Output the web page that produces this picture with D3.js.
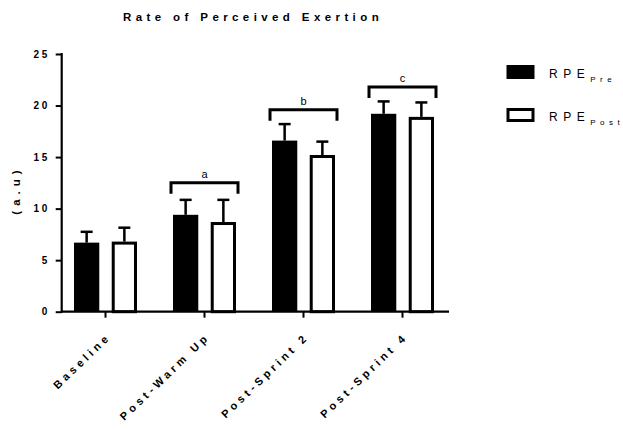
<!DOCTYPE html>
<html>
<head>
<meta charset="utf-8">
<script src="https://cdn.jsdelivr.net/npm/d3@7"></script>
<style>
  body { margin: 0; background: #fff; }
  svg { display: block; font-family: "Liberation Sans", Arial, sans-serif; }
</style>
</head>
<body>
<div class="chart"></div>
<script>
"use strict";

// values (mean + SD, a.u)
const categories = ["Baseline", "Post-Warm Up", "Post-Sprint 2", "Post-Sprint 4"];
const preMean = [6.7, 9.4, 16.6, 19.2];
const preSD = [1.05, 1.45, 1.6, 1.2];
const postMean = [6.8, 8.7, 15.2, 18.9];
const postSD = [1.35, 2.15, 1.3, 1.4];
const bracketLevel = [null, 12.5, 19.6, 21.8];
const bracketLabel = [null, "a", "b", "c"];
const yTicks = [0, 5, 10, 15, 20, 25];

const W = 623, H = 429;

const svg = d3.select(".chart").append("svg")
    .attr("width", W)
    .attr("height", H);

// scales
const y = d3.scaleLinear().domain([0, 25]).range([311.7, 54]);
const x = d3.scaleBand().domain(categories).range([56, 452]).paddingInner(0);
const sub = d3.scaleBand().domain(["pre", "post"]).range([-31.5, 31.5]).paddingInner(0.33);

const rows = categories.map((c, i) => ({
    cat: c,
    pre: preMean[i], preSD: preSD[i],
    post: postMean[i], postSD: postSD[i],
    br: bracketLevel[i], lab: bracketLabel[i]
}));

const cx = d => x(d.cat) + x.bandwidth() / 2;

// title
svg.append("text")
    .attr("x", 253).attr("y", 21)
    .attr("text-anchor", "middle")
    .style("font-size", "11.5px")
    .style("font-weight", "bold")
    .style("letter-spacing", "4.4px")
    .text("Rate of Perceived Exertion");

// y axis
const yAxis = svg.append("g")
    .attr("transform", "translate(61.7,0)")
    .call(d3.axisLeft(y).tickValues(yTicks).tickSize(6).tickSizeOuter(0).tickPadding(6));
yAxis.select(".domain").attr("stroke-width", 2.2).attr("d", `M0,${y(25) - 1}V${y(0) + 1}`);
yAxis.selectAll(".tick line").attr("stroke-width", 2);
yAxis.selectAll(".tick text")
    .style("font-size", "10px")
    .style("font-weight", "bold")
    .style("letter-spacing", "2.5px")
    .attr("fill", "#000");

svg.append("text")
    .attr("transform", "translate(20,190) rotate(-90)")
    .attr("text-anchor", "middle")
    .style("font-size", "11.5px")
    .style("font-weight", "bold")
    .style("letter-spacing", "5px")
    .text("(a.u)");

// bars
const g = svg.selectAll(".grp").data(rows).enter().append("g")
    .attr("class", "grp")
    .attr("transform", d => `translate(${cx(d)},0)`);

// error bars (upward only)
const errs = [["pre", "preSD"], ["post", "postSD"]];
errs.forEach(([k, s]) => {
    const mx = sub(k) + sub.bandwidth() / 2;
    g.append("line")
        .attr("x1", mx).attr("x2", mx)
        .attr("y1", d => y(d[k])).attr("y2", d => y(d[k] + d[s]))
        .attr("stroke", "#000").attr("stroke-width", 2.5);
    g.append("line")
        .attr("x1", mx - 6).attr("x2", mx + 6)
        .attr("y1", d => y(d[k] + d[s])).attr("y2", d => y(d[k] + d[s]))
        .attr("stroke", "#000").attr("stroke-width", 2.5);
});

g.append("rect")
    .attr("x", sub("pre"))
    .attr("width", sub.bandwidth())
    .attr("y", d => y(d.pre))
    .attr("height", d => y(0) - y(d.pre))
    .attr("fill", "#000");

g.append("rect")
    .attr("x", sub("post") + 1.5)
    .attr("width", sub.bandwidth() - 3)
    .attr("y", d => y(d.post) + 1.5)
    .attr("height", d => y(0) - y(d.post) - 1.5)
    .attr("fill", "#fff")
    .attr("stroke", "#000")
    .attr("stroke-width", 3);

// significance brackets
const br = g.filter(d => d.br !== null);
br.append("path")
    .attr("d", d => {
        const x0 = sub("pre") - 2, x1 = sub("post") + sub.bandwidth() + 2;
        const yy = y(d.br), yl = yy + 11;
        return `M${x0},${yl}V${yy}H${x1}V${yl}`;
    })
    .attr("fill", "none")
    .attr("stroke", "#000")
    .attr("stroke-width", 3);
br.append("text")
    .attr("x", 0)
    .attr("y", d => y(d.br) - 5)
    .attr("text-anchor", "middle")
    .style("font-size", "11px")
    .text(d => d.lab);

// x axis
const xAxis = svg.append("g")
    .attr("transform", `translate(0,${y(0)})`)
    .call(d3.axisBottom(x).tickSize(6).tickSizeOuter(0).tickFormat(""));
xAxis.select(".domain").attr("stroke-width", 2.2).attr("d", "M61,0H449");
xAxis.selectAll(".tick line").attr("stroke-width", 2);

svg.selectAll(".xlab").data(categories).enter().append("text")
    .attr("class", "xlab")
    .attr("text-anchor", "end")
    .attr("transform", d => `translate(${x(d) + x.bandwidth() / 2 + 6},${y(0) + 26}) rotate(-44)`)
    .style("font-size", "11px")
    .style("font-weight", "bold")
    .style("letter-spacing", "3.7px")
    .text(d => d);

// legend
const legend = [["Pre", "#000"], ["Post", "#fff"]];
const lg = svg.selectAll(".lg").data(legend).enter().append("g")
    .attr("class", "lg")
    .attr("transform", (d, i) => `translate(0,${65 + i * 43})`);
lg.append("rect")
    .attr("x", 508).attr("y", 1.5)
    .attr("width", 25).attr("height", 11)
    .attr("fill", d => d[1])
    .attr("stroke", "#000").attr("stroke-width", 3);
const lt = lg.append("text")
    .attr("x", 549).attr("y", 13)
    .style("font-size", "12px")
    .style("letter-spacing", "5.5px");
lt.append("tspan").text("RPE");
lt.append("tspan")
    .attr("dy", 4)
    .style("font-size", "8px")
    .style("letter-spacing", "4.5px")
    .text(d => d[0]);
</script>
</body>
</html>
